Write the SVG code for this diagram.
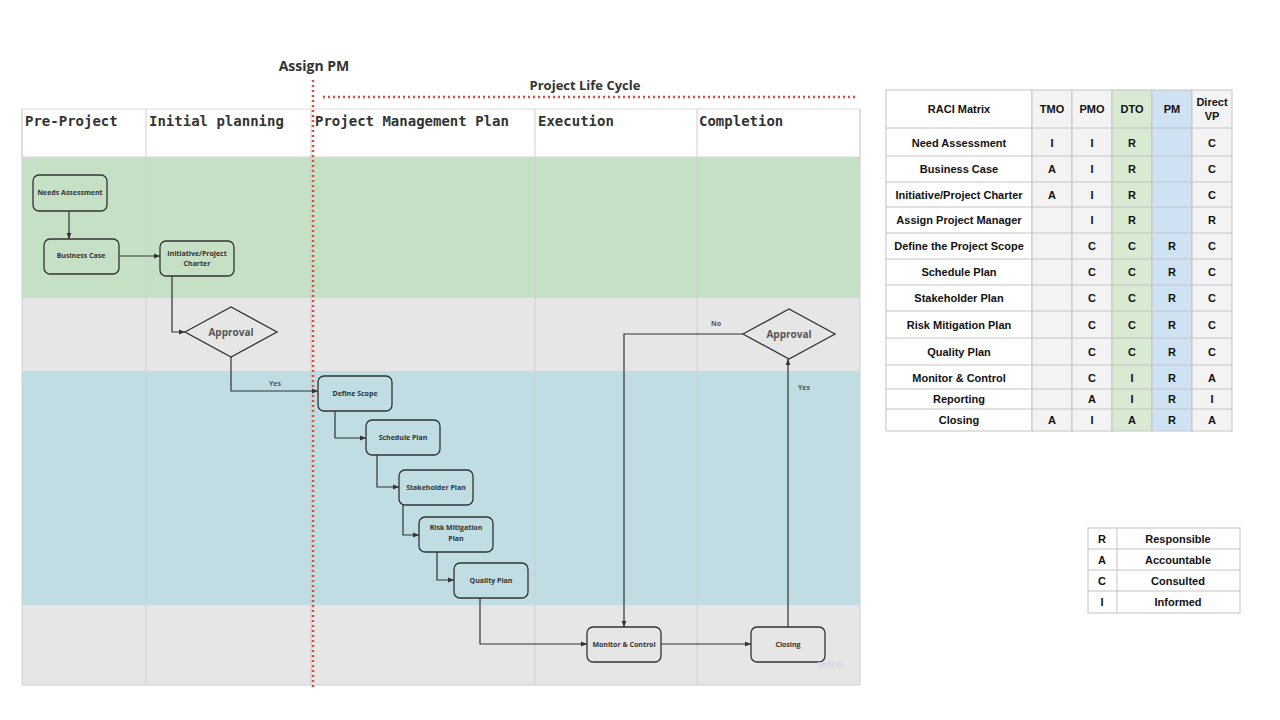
<svg xmlns="http://www.w3.org/2000/svg" width="1280" height="720" viewBox="0 0 1280 720">
<style>
.hdr{font-family:"DejaVu Sans Mono","Liberation Mono",monospace;font-size:14px;font-weight:bold;fill:#333}
.nd{stroke:#333;stroke-width:1.3}
.nt{font-family:"Open Sans","Noto Sans",sans-serif;font-size:7px;font-weight:bold;fill:#333;text-anchor:middle}
.ap{font-family:"Open Sans","Noto Sans",sans-serif;font-size:10px;font-weight:bold;fill:#555;text-anchor:middle}
.lbl{font-family:"Open Sans","Noto Sans",sans-serif;font-size:7px;font-weight:bold;fill:#555;text-anchor:middle}
.cn{fill:none;stroke:#333;stroke-width:1.2}
.tt{font-family:"Liberation Sans",Arial,sans-serif;font-size:11px;font-weight:bold;fill:#111;text-anchor:middle}
.cell{stroke:#c4c4c4;stroke-width:1}
.red{stroke:#e2483d;stroke-width:2.5;stroke-dasharray:2 3;fill:none}
</style>
<defs>
<marker id="ah" viewBox="0 0 10 10" refX="10" refY="5" markerWidth="6" markerHeight="6" orient="auto" markerUnits="userSpaceOnUse"><path d="M0,1 L10,5 L0,9 z" fill="#333"/></marker>
</defs>
<rect width="1280" height="720" fill="#fff"/>
<g id="lanes">
<rect x="22" y="109" width="838" height="48" fill="#fff" stroke="#ddd"/>
<rect x="22" y="157" width="838" height="141" fill="#c6e0c6"/>
<rect x="22" y="298" width="838" height="73" fill="#e6e6e6"/>
<rect x="22" y="371" width="838" height="234" fill="#bfdde2"/>
<rect x="22" y="605" width="838" height="80" fill="#e6e6e6"/>
<g stroke="#cfcfcf" stroke-width="1">
<line x1="146" y1="109" x2="146" y2="685"/>
<line x1="311" y1="109" x2="311" y2="685"/>
<line x1="535" y1="109" x2="535" y2="685"/>
<line x1="697" y1="109" x2="697" y2="685"/>
<line x1="22" y1="685" x2="860" y2="685"/>
<line x1="860" y1="109" x2="860" y2="685"/>
<line x1="22" y1="109" x2="22" y2="685"/>
</g>
<text class="hdr" x="25" y="126">Pre-Project</text>
<text class="hdr" x="149" y="126">Initial planning</text>
<text class="hdr" x="315" y="126">Project Management Plan</text>
<text class="hdr" x="538" y="126">Execution</text>
<text class="hdr" x="699" y="126">Completion</text>
</g>
<g id="markers-red">
<line class="red" x1="313" y1="80" x2="313" y2="687"/>
<line class="red" x1="323" y1="97" x2="858" y2="97"/>
<text x="314" y="71" font-family="'Open Sans','Noto Sans',sans-serif" font-size="14" font-weight="bold" fill="#333" text-anchor="middle">Assign PM</text>
<text x="585" y="90" font-family="'Open Sans','Noto Sans',sans-serif" font-size="13" font-weight="bold" fill="#333" text-anchor="middle">Project Life Cycle</text>
</g>
<g id="connectors">
<path class="cn" d="M69,211 V239" marker-end="url(#ah)"/>
<path class="cn" d="M119,256 H160" marker-end="url(#ah)"/>
<path class="cn" d="M172,276 V332 H185" marker-end="url(#ah)"/>
<path class="cn" d="M231,357 V391 H318" marker-end="url(#ah)"/>
<text class="lbl" x="275" y="386">Yes</text>
<path class="cn" d="M335,411 V438 H366" marker-end="url(#ah)"/>
<path class="cn" d="M377,455 V487 H399" marker-end="url(#ah)"/>
<path class="cn" d="M403,505 V535 H419" marker-end="url(#ah)"/>
<path class="cn" d="M437,552 V580 H454" marker-end="url(#ah)"/>
<path class="cn" d="M480,598 V644 H587" marker-end="url(#ah)"/>
<path class="cn" d="M661,644 H751" marker-end="url(#ah)"/>
<path class="cn" d="M788,627 V359" marker-end="url(#ah)"/>
<text class="lbl" x="804" y="390">Yes</text>
<path class="cn" d="M743,334 H624 V627" marker-end="url(#ah)"/>
<text class="lbl" x="716" y="326">No</text>
</g>
<g id="n-needs"><rect class="nd" x="33" y="175" width="74" height="36" rx="6" fill="#c6e0c6"/><text class="nt" x="70" y="195">Needs Assessment</text></g>
<g id="n-business"><rect class="nd" x="44" y="239" width="75" height="35" rx="6" fill="#c6e0c6"/><text class="nt" x="81" y="258">Business Case</text></g>
<g id="n-charter"><rect class="nd" x="160" y="241" width="74" height="35" rx="6" fill="#c6e0c6"/><text class="nt" x="197" y="256">Initiative/Project</text><text class="nt" x="197" y="266">Charter</text></g>
<g id="n-approval1"><polygon class="nd" points="185,332 231,307 277,332 231,357" fill="#e6e6e6"/><text class="ap" x="231" y="336">Approval</text></g>
<g id="n-scope"><rect class="nd" x="318" y="376" width="74" height="35" rx="6" fill="#bfdde2"/><text class="nt" x="355" y="396">Define Scope</text></g>
<g id="n-schedule"><rect class="nd" x="366" y="420" width="74" height="35" rx="6" fill="#bfdde2"/><text class="nt" x="403" y="440">Schedule Plan</text></g>
<g id="n-stakeholder"><rect class="nd" x="399" y="470" width="74" height="35" rx="6" fill="#bfdde2"/><text class="nt" x="436" y="490">Stakeholder Plan</text></g>
<g id="n-risk"><rect class="nd" x="419" y="517" width="74" height="35" rx="6" fill="#bfdde2"/><text class="nt" x="456" y="530">Risk Mitigation</text><text class="nt" x="456" y="541">Plan</text></g>
<g id="n-quality"><rect class="nd" x="454" y="563" width="74" height="35" rx="6" fill="#bfdde2"/><text class="nt" x="491" y="583">Quality Plan</text></g>
<g id="n-monitor"><rect class="nd" x="587" y="627" width="74" height="35" rx="6" fill="#e6e6e6"/><text class="nt" x="624" y="647">Monitor &amp; Control</text></g>
<g id="n-closing"><rect class="nd" x="751" y="627" width="74" height="35" rx="6" fill="#e6e6e6"/><text class="nt" x="788" y="647">Closing</text></g>
<g id="n-approval2"><polygon class="nd" points="743,334 789,309 835,334 789,359" fill="#e6e6e6"/><text class="ap" x="789" y="338">Approval</text></g>
<text x="830" y="668" font-family="'Open Sans',sans-serif" font-size="11" font-weight="bold" fill="#d6d6e8" text-anchor="middle">miro</text>
<g id="raci">
<g class="cell">
<rect x="886" y="90" width="146" height="341" fill="#fff"/>
<rect x="1032" y="90" width="40" height="341" fill="#f3f3f3"/>
<rect x="1072" y="90" width="40" height="341" fill="#f3f3f3"/>
<rect x="1112" y="90" width="40" height="341" fill="#d9ead3"/>
<rect x="1152" y="90" width="40" height="341" fill="#cfe2f3"/>
<rect x="1192" y="90" width="40" height="341" fill="#f3f3f3"/>
<path d="M886,128H1232M886,156H1232M886,182H1232M886,207H1232M886,233H1232M886,259H1232M886,285H1232M886,311H1232M886,338H1232M886,365H1232M886,389H1232M886,409H1232" fill="none"/>
</g>
<text class="tt" x="959" y="113">RACI Matrix</text>
<text class="tt" x="1052" y="113">TMO</text>
<text class="tt" x="1092" y="113">PMO</text>
<text class="tt" x="1132" y="113">DTO</text>
<text class="tt" x="1172" y="113">PM</text>
<text class="tt" x="1212" y="106">Direct</text>
<text class="tt" x="1212" y="120">VP</text>
<g class="tt">
<text x="959" y="147">Need Assessment</text><text x="1052" y="147">I</text><text x="1092" y="147">I</text><text x="1132" y="147">R</text><text x="1212" y="147">C</text>
<text x="959" y="173">Business Case</text><text x="1052" y="173">A</text><text x="1092" y="173">I</text><text x="1132" y="173">R</text><text x="1212" y="173">C</text>
<text x="959" y="199">Initiative/Project Charter</text><text x="1052" y="199">A</text><text x="1092" y="199">I</text><text x="1132" y="199">R</text><text x="1212" y="199">C</text>
<text x="959" y="224">Assign Project Manager</text><text x="1092" y="224">I</text><text x="1132" y="224">R</text><text x="1212" y="224">R</text>
<text x="959" y="250">Define the Project Scope</text><text x="1092" y="250">C</text><text x="1132" y="250">C</text><text x="1172" y="250">R</text><text x="1212" y="250">C</text>
<text x="959" y="276">Schedule Plan</text><text x="1092" y="276">C</text><text x="1132" y="276">C</text><text x="1172" y="276">R</text><text x="1212" y="276">C</text>
<text x="959" y="302">Stakeholder Plan</text><text x="1092" y="302">C</text><text x="1132" y="302">C</text><text x="1172" y="302">R</text><text x="1212" y="302">C</text>
<text x="959" y="329">Risk Mitigation Plan</text><text x="1092" y="329">C</text><text x="1132" y="329">C</text><text x="1172" y="329">R</text><text x="1212" y="329">C</text>
<text x="959" y="356">Quality Plan</text><text x="1092" y="356">C</text><text x="1132" y="356">C</text><text x="1172" y="356">R</text><text x="1212" y="356">C</text>
<text x="959" y="382">Monitor &amp; Control</text><text x="1092" y="382">C</text><text x="1132" y="382">I</text><text x="1172" y="382">R</text><text x="1212" y="382">A</text>
<text x="959" y="403">Reporting</text><text x="1092" y="403">A</text><text x="1132" y="403">I</text><text x="1172" y="403">R</text><text x="1212" y="403">I</text>
<text x="959" y="424">Closing</text><text x="1052" y="424">A</text><text x="1092" y="424">I</text><text x="1132" y="424">A</text><text x="1172" y="424">R</text><text x="1212" y="424">A</text>
</g>
</g>
<g id="legend">
<g stroke="#c4c4c4" fill="none">
<rect x="1088" y="528" width="152" height="85" fill="#fff"/>
<path d="M1117,528V613M1088,549H1240M1088,570H1240M1088,591H1240"/>
</g>
<g class="tt">
<text x="1102" y="543">R</text><text x="1178" y="543">Responsible</text>
<text x="1102" y="564">A</text><text x="1178" y="564">Accountable</text>
<text x="1102" y="585">C</text><text x="1178" y="585">Consulted</text>
<text x="1102" y="606">I</text><text x="1178" y="606">Informed</text>
</g>
</g>
</svg>
